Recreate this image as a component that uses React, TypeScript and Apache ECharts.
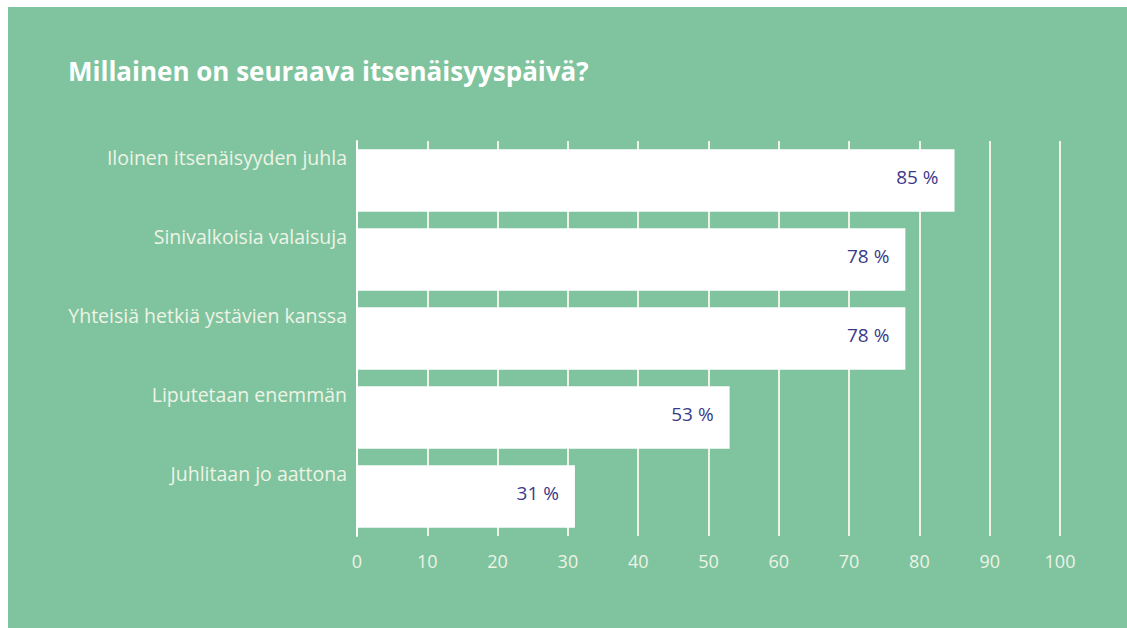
import React, { useEffect, useRef } from "react";
import * as echarts from "echarts";

const categories = [
  "Iloinen itsenäisyyden juhla",
  "Sinivalkoisia valaisuja",
  "Yhteisiä hetkiä ystävien kanssa",
  "Liputetaan enemmän",
  "Juhlitaan jo aattona",
];
const values = [85, 78, 78, 53, 31];
const title = "Millainen on seuraava itsenäisyyspäivä?";

const GREEN = "#7fc49e";
const LIGHT = "#eef3e6";

export default function App() {
  const ref = useRef<HTMLDivElement>(null);
  useEffect(() => {
    if (!ref.current) return;
    const chart = echarts.init(ref.current, undefined, { renderer: "svg" });
    chart.setOption({
      animation: false,
      backgroundColor: GREEN,
      title: {
        text: title,
        left: 55,
        top: 46,
        textStyle: {
          color: "#ffffff",
          fontFamily: "Open Sans",
          fontWeight: "bold",
          fontSize: 26,
        },
      },
      grid: { left: 349, right: 67, top: 134, height: 395, containLabel: false },
      xAxis: {
        type: "value",
        min: 0,
        max: 100,
        interval: 10,
        axisLine: { show: false },
        axisTick: { show: false },
        splitLine: { show: true, lineStyle: { color: LIGHT, width: 2 } },
        axisLabel: {
          color: LIGHT,
          fontFamily: "Open Sans",
          fontSize: 18,
          margin: 16,
        },
      },
      yAxis: {
        type: "category",
        inverse: true,
        data: categories,
        axisLine: { show: true, lineStyle: { color: "#ffffff", width: 2 } },
        axisTick: { show: false },
        axisLabel: {
          color: LIGHT,
          fontFamily: "Open Sans",
          fontWeight: 500,
          fontSize: 19.5,
          margin: 10,
          verticalAlign: "bottom",
          lineHeight: 46,
        },
      },
      series: [
        {
          type: "bar",
          data: values,
          barCategoryGap: "21%",
          itemStyle: { color: "#ffffff" },
          label: {
            show: true,
            position: "insideRight",
            distance: 16,
            offset: [0, -4],
            formatter: "{c} %",
            color: "#3b3a8a",
            fontFamily: "Open Sans",
            fontWeight: 500,
            fontSize: 19,
          },
        },
      ],
    });
    return () => chart.dispose();
  }, []);
  return (
    <div style={{ position: "absolute", left: 0, top: 0, width: 1127, height: 628, background: "#ffffff" }}>
      <div ref={ref} style={{ position: "absolute", left: 8, top: 7, width: 1119, height: 621 }} />
    </div>
  );
}
